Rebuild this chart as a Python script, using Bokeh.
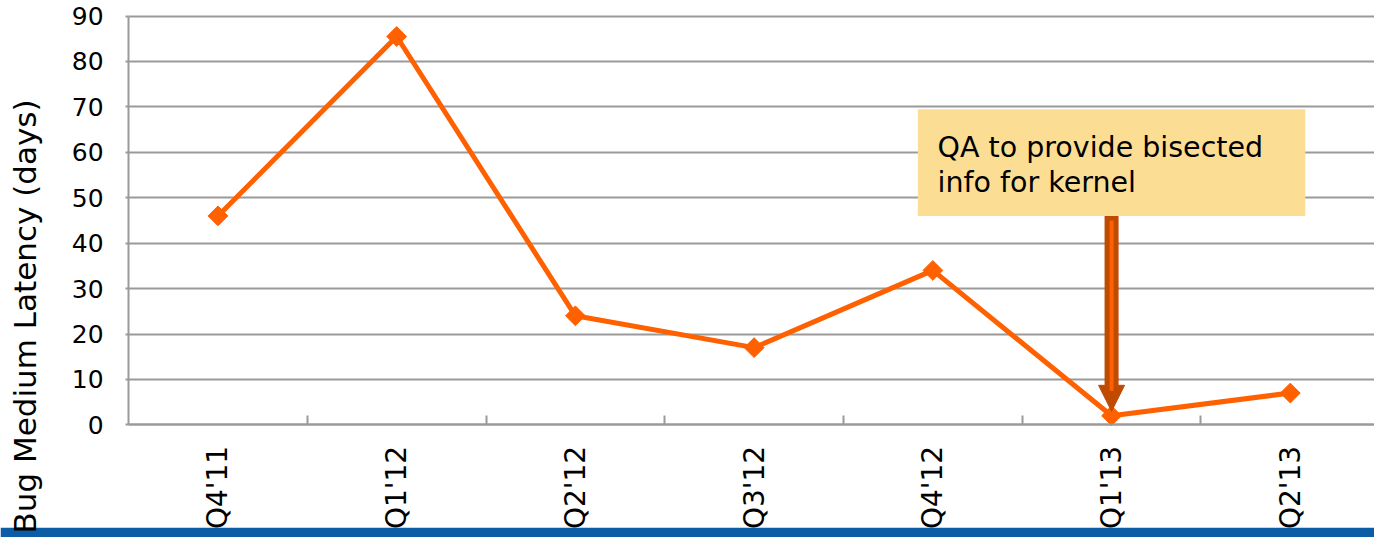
import math
from bokeh.plotting import figure
from bokeh.models import (ColumnDataSource, LinearAxis, FixedTicker, Grid, Label,
                          BoxAnnotation, Arrow, NormalHead, Range1d)
from bokeh.embed import file_html
from bokeh.resources import INLINE

quarters = ["Q4'11", "Q1'12", "Q2'12", "Q3'12", "Q4'12", "Q1'13", "Q2'13"]
latency = [46, 85.5, 24, 17, 34, 2, 7]
y_ticks = [0, 10, 20, 30, 40, 50, 60, 70, 80, 90]
y_title = "Bug Medium Latency (days)"
note_lines = ["QA to provide bisected", "info for kernel"]
note_quarter = "Q1'13"

xs = list(range(len(quarters)))
src = ColumnDataSource(dict(x=xs, y=latency))

W, H = 1374, 537
p = figure(width=W, height=H, output_backend="svg", toolbar_location=None,
           x_range=Range1d(-1.2168, 6.4712), y_range=Range1d(-24.80, 93.42),
           x_axis_location=None, y_axis_location=None, min_border=0,
           outline_line_color=None)
p.xgrid.visible = False
p.ygrid.visible = False

FONT = "DejaVu Sans"
GRAY = "#9a9a9a"

# horizontal grid
yticker = FixedTicker(ticks=y_ticks)
grid = Grid(dimension=1, ticker=yticker, grid_line_color=GRAY, grid_line_width=2,
            cross_bounds=(-0.5, 7))
p.add_layout(grid)

# y axis
yaxis = LinearAxis(ticker=yticker, fixed_location=-0.5, bounds=(0, 90),
                   axis_line_color=GRAY, axis_line_width=2,
                   major_tick_line_color=GRAY, major_tick_line_width=2,
                   major_tick_out=3, major_tick_in=0,
                   minor_tick_line_color=None,
                   major_label_text_font=FONT, major_label_text_font_size="25px",
                   major_label_text_color="black", major_label_standoff=22)
p.add_layout(yaxis, "left")

# x axis (categorical positions)
xticker = FixedTicker(ticks=xs, minor_ticks=[i + 0.5 for i in xs])
xaxis = LinearAxis(ticker=xticker, fixed_location=0, bounds=(-0.5, 6.4712),
                   axis_line_color=GRAY, axis_line_width=2,
                   major_tick_line_color=None,
                   minor_tick_line_color=GRAY, minor_tick_line_width=2,
                   minor_tick_in=9, minor_tick_out=0,
                   major_label_overrides={i: q for i, q in zip(xs, quarters)},
                   major_label_orientation=math.pi / 2,
                   major_label_text_font=FONT, major_label_text_font_size="28px",
                   major_label_text_color="black", major_label_standoff=15)
p.add_layout(xaxis, "below")

# bottom blue band
p.add_layout(BoxAnnotation(top=-22.66, fill_color="#0c5da5", fill_alpha=1,
                           line_color=None, level="underlay"))

# data line + diamond markers
ORANGE = "#ff6000"
p.line("x", "y", source=src, line_color=ORANGE, line_width=5)
p.scatter("x", "y", source=src, marker="square", angle=math.pi / 4, size=14,
          fill_color=ORANGE, line_color=ORANGE)

# y title
p.add_layout(Label(x=-1.0825, y=-23.92, text=y_title, angle=math.pi / 2,
                   text_align="left", text_baseline="middle",
                   text_font=FONT, text_font_size="31px", text_color="black"))

# note box
p.add_layout(BoxAnnotation(left=3.916, right=6.084, bottom=45.96, top=69.47,
                           fill_color="#fbde93", fill_alpha=1, line_color=None))
for txt, yb in zip(note_lines, [61.15, 53.44]):
    p.add_layout(Label(x=4.026, y=yb, text=txt, text_font=FONT,
                       text_font_size="28.5px", text_color="black",
                       text_baseline="alphabetic"))

# arrow
ax = quarters.index(note_quarter)
DARK = "#c04a00"
p.add_layout(Arrow(x_start=ax, y_start=45.96, x_end=ax, y_end=2.98,
                   line_color=DARK, line_width=14, line_cap="butt",
                   end=NormalHead(size=26, fill_color=DARK, line_color=DARK)))
p.add_layout(Arrow(x_start=ax, y_start=45.0, x_end=ax, y_end=7.5,
                   line_color=ORANGE, line_width=4, end=None))

open("out.html", "w").write(file_html(p, INLINE))
